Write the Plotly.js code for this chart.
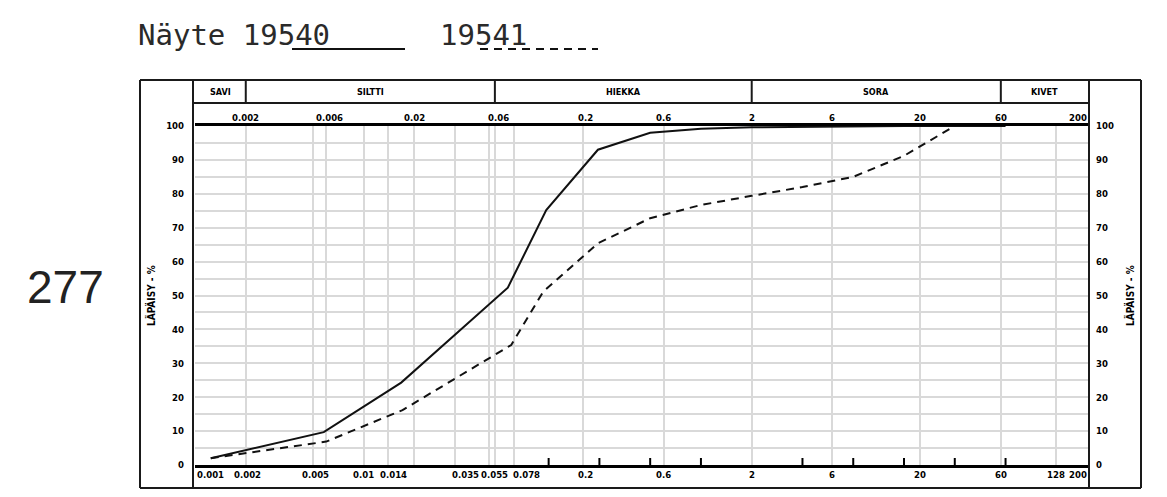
<!DOCTYPE html>
<html>
<head>
<meta charset="utf-8">
<script src="https://cdn.plot.ly/plotly-3.0.1.min.js"></script>
<style>
  html, body { margin: 0; padding: 0; background: #fff; }
  #chart { width: 1167px; height: 497px; }
</style>
</head>
<body>
<div id="chart"></div>
<script>
// Grain size distribution (rakeisuuskäyrä) for two samples.

// Sample identifiers
const sampleIds = ['19540', '19541'];

// Grain size (mm) and passing percentage for each sample
const size19540 = [0.00124, 0.0058, 0.0167, 0.0716, 0.121, 0.245, 0.5, 1, 2, 4, 8, 16, 32, 64];
const pass19540 = [2.0, 9.7, 24.3, 52.3, 75.2, 93.0, 98.0, 99.2, 99.6, 99.8, 100, 100, 100, 100];

const size19541 = [0.00124, 0.006, 0.017, 0.075, 0.116, 0.245, 0.5, 1, 2, 4, 8, 16, 32];
const pass19541 = [2.0, 6.9, 16.2, 35.4, 51.1, 65.4, 72.8, 76.7, 79.4, 82.0, 85.0, 91.2, 100];

// Soil fraction classes and their size limits (mm)
const soilClasses = ['SAVI', 'SILTTI', 'HIEKKA', 'SORA', 'KIVET'];
const classBounds = [0.001, 0.002, 0.06, 2, 60, 200];

// Size axis labels (mm)
const bottomLabelVals = [0.001, 0.002, 0.005, 0.01, 0.014, 0.035, 0.055, 0.078, 0.2, 0.6, 2, 6, 20, 60, 128, 200];
const topLabelVals = [0.002, 0.006, 0.02, 0.06, 0.2, 0.6, 2, 6, 20, 60, 200];
const gridVals = [0.002, 0.005, 0.006, 0.01, 0.014, 0.02, 0.035, 0.055, 0.06, 0.078, 0.2, 0.6, 2, 6, 20, 60, 128];
const sieveVals = [0.125, 0.25, 0.5, 1, 4, 8, 16, 32, 64];
const percentTicks = [0, 10, 20, 30, 40, 50, 60, 70, 80, 90, 100];
const sheetNumber = '277';
const yTitle = 'LÄPÄISY - %';

// ---- page geometry (pixels) ----
const PAGE_W = 1167, PAGE_H = 497;
const L = 195, R = 1089, T = 126, B = 465;
const W = R - L, H = B - T;
const px = x => (x - L) / W;
const py = y => (B - y) / H;

const COND = "'DejaVu Sans Condensed', 'DejaVu Sans', sans-serif";
const tickFont = { family: COND, size: 9.5, color: '#000', weight: 'bold' };
const GRID = '#d9d9d9';
const INK = '#111';
const DASH = '8px,6px';

const xMin = classBounds[0], xMax = classBounds[classBounds.length - 1];
const xRange = [Math.log10(xMin), Math.log10(xMax)];
const fmt = v => String(v);

const traces = [
  { x: size19540, y: pass19540, type: 'scatter', mode: 'lines', name: sampleIds[0],
    xaxis: 'x', yaxis: 'y',
    line: { color: INK, width: 2 }, hoverinfo: 'x+y', showlegend: false },
  // same 0-100 scale, carried by the right-hand percentage axis
  { x: size19541, y: pass19541, type: 'scatter', mode: 'lines', name: sampleIds[1],
    xaxis: 'x', yaxis: 'y2',
    line: { color: INK, width: 2, dash: DASH }, hoverinfo: 'x+y', showlegend: false }
];

// frame around the sheet
const frameLine = { color: '#1a1a1a', width: 2 };
const hLine = (y, x0, x1, line) => ({ type: 'line', xref: 'paper', yref: 'paper', layer: 'above',
  x0: px(x0), x1: px(x1), y0: py(y), y1: py(y), line: line || frameLine });
const vLine = (x, y0, y1, line) => ({ type: 'line', xref: 'paper', yref: 'paper', layer: 'above',
  x0: px(x), x1: px(x), y0: py(y0), y1: py(y1), line: line || frameLine });

const OUT_L = 140, OUT_R = 1141, OUT_T = 80, OUT_B = 488, HEAD_MID = 103;
const shapes = [
  hLine(OUT_T, OUT_L, OUT_R),
  hLine(OUT_B, OUT_L, OUT_R),
  hLine(HEAD_MID, L - 2, R),
  vLine(OUT_L, OUT_T, OUT_B),
  vLine(OUT_R, OUT_T, OUT_B),
  vLine(L - 2, OUT_T, OUT_B),
  vLine(R, OUT_T, OUT_B),
];
// dividers between soil classes in the header row (shape x is in data units)
classBounds.slice(1, -1).forEach(b => {
  shapes.push({ type: 'line', xref: 'x', yref: 'paper', layer: 'above',
    x0: b, x1: b, y0: py(HEAD_MID), y1: py(OUT_T), line: frameLine });
});
// short sieve-size ticks standing on the size axis
sieveVals.forEach(v => {
  shapes.push({ type: 'line', xref: 'x', yref: 'paper', layer: 'above',
    x0: v, x1: v, y0: 0, y1: py(B - 7), line: { color: '#000', width: 2 } });
});
// legend underlines next to the sample numbers
shapes.push({ type: 'line', xref: 'paper', yref: 'paper', x0: px(292), x1: px(405), y0: py(49), y1: py(49),
  line: { color: INK, width: 2 } });
shapes.push({ type: 'line', xref: 'paper', yref: 'paper', x0: px(480), x1: px(598), y0: py(49), y1: py(49),
  line: { color: INK, width: 2, dash: DASH } });

const annotations = [];
// class names, centred in each class band (annotation x is log10 on a log axis)
soilClasses.forEach((name, i) => {
  annotations.push({ text: name, xref: 'x', yref: 'paper', showarrow: false,
    x: (Math.log10(classBounds[i]) + Math.log10(classBounds[i + 1])) / 2, y: py(92),
    xanchor: 'center', yanchor: 'middle', font: { family: COND, size: 9, color: '#000', weight: 'bold' } });
});

// size labels below and above the plot; crowded labels are nudged right
const labelNudge = { '0.002': 2, '0.005': 3, '0.014': 5, '0.035': 10, '0.055': 6, '0.078': 12, '0.2': 2 };
const topNudge = { '0.006': 3, '0.06': 4, '0.2': 2 };
const sizeLabel = (v, yPix, nudges) => {
  const t = fmt(v);
  const anchor = v === xMin ? 'left' : (v === xMax ? 'right' : 'center');
  return { text: t, xref: 'x', yref: 'paper', showarrow: false,
    x: Math.log10(v), y: py(yPix), xanchor: anchor, yanchor: 'middle',
    xshift: anchor === 'center' ? (nudges[t] || 0) : 0, font: tickFont };
};
bottomLabelVals.forEach(v => annotations.push(sizeLabel(v, 474, labelNudge)));
topLabelVals.forEach(v => annotations.push(sizeLabel(v, 118, topNudge)));

// vertical axis titles on both sides
annotations.push({ text: yTitle, xref: 'paper', yref: 'paper', showarrow: false, textangle: -90,
  x: px(150), y: py(296), xanchor: 'center', yanchor: 'middle', font: { family: COND, size: 10, color: '#000', weight: 'bold' } });
annotations.push({ text: yTitle, xref: 'paper', yref: 'paper', showarrow: false, textangle: -90,
  x: px(1129), y: py(296), xanchor: 'center', yanchor: 'middle', font: { family: COND, size: 10, color: '#000', weight: 'bold' } });
// sample header
const MONO = "'DejaVu Sans Mono', 'Liberation Mono', monospace";
annotations.push({ text: 'Näyte ' + sampleIds[0], xref: 'paper', yref: 'paper', showarrow: false,
  x: px(136), y: py(35), xanchor: 'left', yanchor: 'middle', font: { family: MONO, size: 29, color: '#2a2a2a' } });
annotations.push({ text: sampleIds[1], xref: 'paper', yref: 'paper', showarrow: false,
  x: px(438), y: py(35), xanchor: 'left', yanchor: 'middle', font: { family: MONO, size: 29, color: '#2a2a2a' } });
// sheet number
annotations.push({ text: sheetNumber, xref: 'paper', yref: 'paper', showarrow: false,
  x: px(65), y: py(287), xanchor: 'center', yanchor: 'middle',
  font: { family: "'Liberation Sans', sans-serif", size: 46, color: '#222' } });

const layout = {
  width: PAGE_W, height: PAGE_H,
  margin: { l: L, r: PAGE_W - R, t: T, b: PAGE_H - B, pad: 0 },
  paper_bgcolor: '#fff', plot_bgcolor: '#fff',
  showlegend: false,
  xaxis: {
    type: 'log', range: xRange, fixedrange: true,
    tickmode: 'array', tickvals: gridVals, showticklabels: false, ticks: '',
    showgrid: true, gridcolor: GRID, gridwidth: 2, zeroline: false,
    showline: true, mirror: true, linecolor: '#000', linewidth: 3
  },
  yaxis: {
    range: [0, 100], fixedrange: true,
    tickmode: 'array', tickvals: percentTicks, ticktext: percentTicks.map(fmt),
    ticks: '', ticklabelstandoff: 10, tickfont: tickFont,
    showgrid: true, gridcolor: GRID, gridwidth: 2, zeroline: false, showline: false,
    minor: { dtick: 5, tick0: 0, showgrid: true, gridcolor: GRID, gridwidth: 2, ticks: '' }
  },
  yaxis2: {
    range: [0, 100], overlaying: 'y', side: 'right', anchor: 'x', fixedrange: true,
    tickmode: 'array', tickvals: percentTicks, ticktext: percentTicks.map(fmt),
    ticks: '', ticklabelstandoff: 6, tickfont: tickFont,
    showgrid: false, zeroline: false, showline: false
  },
  shapes: shapes,
  annotations: annotations
};

Plotly.newPlot('chart', traces, layout, { displayModeBar: false, staticPlot: true });
</script>
</body>
</html>
